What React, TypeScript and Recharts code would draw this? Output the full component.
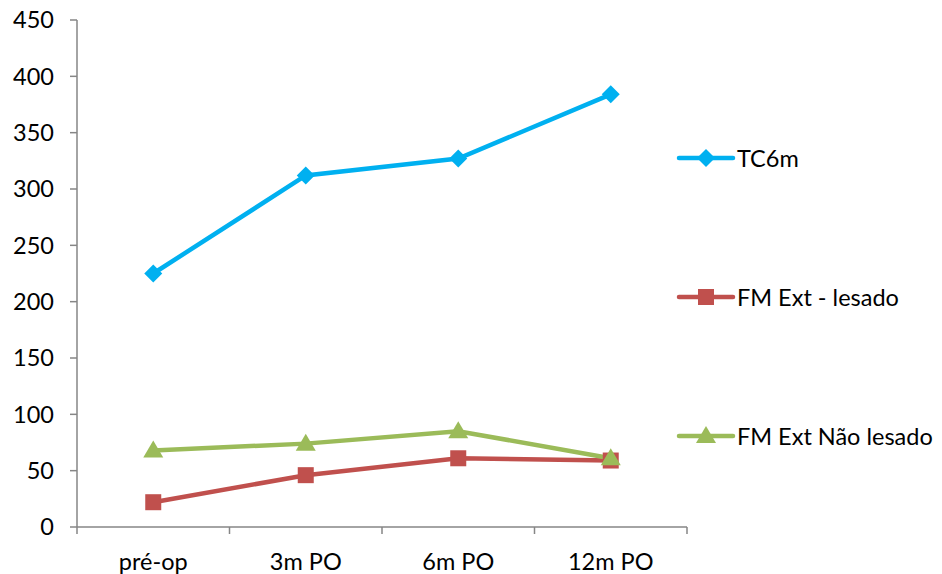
import React from 'react';
import { LineChart, Line, XAxis, YAxis } from 'recharts';

const categories = ['pré-op', '3m PO', '6m PO', '12m PO'];
const tc6m = [225, 312, 327, 384];
const fmLesado = [22, 46, 61, 59];
const fmNaoLesado = [68, 74, 85, 61];
const yTicks = [0, 50, 100, 150, 200, 250, 300, 350, 400, 450];

const SERIES = [
  { key: 'tc6m', name: 'TC6m', color: '#00B0F0', shape: 'diamond' },
  { key: 'fmLesado', name: 'FM Ext - lesado', color: '#C0504D', shape: 'square' },
  { key: 'fmNaoLesado', name: 'FM Ext Não lesado', color: '#9BBB59', shape: 'triangle' },
];

const data = categories.map((c, i) => ({
  cat: c,
  tc6m: tc6m[i],
  fmLesado: fmLesado[i],
  fmNaoLesado: fmNaoLesado[i],
}));

const AXIS = '#868686';
const FONT = 'Lato, "Open Sans", sans-serif';
const FS = 23.5;
const PLOT_W = 610;
const HALF = PLOT_W / categories.length / 2;
const X_MARGIN = 26;

const marker = (shape: string, cx: number, cy: number, color: string, key?: any) => {
  if (shape === 'diamond') {
    const r = 9;
    return <path key={key} d={`M${cx},${cy - r}L${cx + r},${cy}L${cx},${cy + r}L${cx - r},${cy}Z`} fill={color} />;
  }
  if (shape === 'square') {
    return <rect key={key} x={cx - 8} y={cy - 8} width={16} height={16} fill={color} />;
  }
  return <path key={key} d={`M${cx},${cy - 10}L${cx + 10},${cy + 7}L${cx - 10},${cy + 7}Z`} fill={color} />;
};

const makeDot = (shape: string, color: string) => (p: any) =>
  marker(shape, p.cx, p.cy, color, `${shape}-${p.index}`);

// category label plus Excel-style tick marks between categories
const XTick = (props: any) => {
  const { x, y, payload, index } = props;
  const axisY = y - X_MARGIN;
  return (
    <g>
      <line x1={x - HALF} y1={axisY} x2={x - HALF} y2={axisY + 7} stroke={AXIS} strokeWidth={1.5} />
      {index === categories.length - 1 && (
        <line x1={x + HALF} y1={axisY} x2={x + HALF} y2={axisY + 7} stroke={AXIS} strokeWidth={1.5} />
      )}
      <text x={x} y={y} dy="0.71em" textAnchor="middle" fill="#000" fontSize={FS} fontFamily={FONT}>
        {payload.value}
      </text>
    </g>
  );
};

// legend rows, vertical centres in chart pixels
const LEGEND_Y = [150, 289, 428];

const ChartLegend = () => (
  <div style={{ position: 'absolute', left: 668, top: 0 }}>
    {SERIES.map((s, i) => (
      <div key={s.key} style={{ position: 'absolute', left: 0, top: LEGEND_Y[i] - 15, height: 30, display: 'flex', alignItems: 'center' }}>
        <svg width={60} height={30}>
          <line x1={3} y1={15} x2={57} y2={15} stroke={s.color} strokeWidth={4.5} strokeLinecap="round" />
          {marker(s.shape, 30, 15, s.color)}
        </svg>
        <span style={{ fontFamily: FONT, fontSize: FS, color: '#000', marginLeft: 1, whiteSpace: 'nowrap' }}>{s.name}</span>
      </div>
    ))}
  </div>
);

export default function App() {
  return (
    <div style={{ position: 'relative', width: 934, height: 566 }}>
      <LineChart
        width={934}
        height={566}
        data={data}
        margin={{ top: 12, right: 255, bottom: 0, left: 0 }}
        style={{ overflow: 'visible' }}
      >
        <XAxis
          dataKey="cat"
          height={47}
          padding={{ left: HALF, right: HALF }}
          interval={0}
          axisLine={{ stroke: AXIS, strokeWidth: 1.5 }}
          tickLine={false}
          tickSize={0}
          tickMargin={X_MARGIN}
          tick={<XTick />}
        />
        <YAxis
          width={69}
          domain={[0, 450]}
          ticks={yTicks}
          interval={0}
          tickSize={7}
          tickMargin={16}
          stroke={AXIS}
          axisLine={{ stroke: AXIS, strokeWidth: 1.5 }}
          tickLine={{ stroke: AXIS, strokeWidth: 1.5 }}
          tick={{ fill: '#000', fontSize: FS, fontFamily: FONT }}
        />
        {SERIES.map((s) => (
          <Line
            key={s.key}
            dataKey={s.key}
            name={s.name}
            stroke={s.color}
            strokeWidth={4.5}
            dot={makeDot(s.shape, s.color)}
            activeDot={false}
            isAnimationActive={false}
          />
        ))}
      </LineChart>
      <ChartLegend />
    </div>
  );
}
